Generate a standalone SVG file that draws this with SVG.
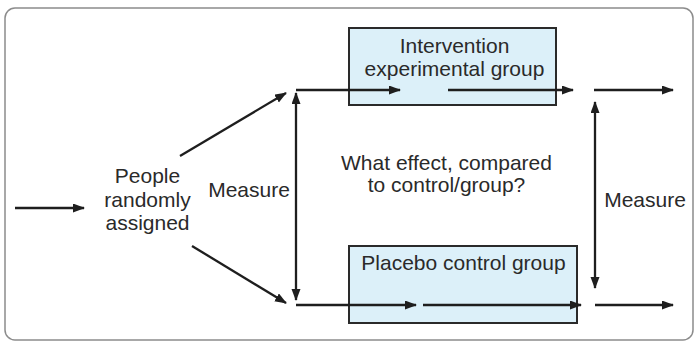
<svg xmlns="http://www.w3.org/2000/svg" width="695" height="342" viewBox="0 0 695 342">
<style>
.t{font-family:"Liberation Sans",Arial,sans-serif;font-size:21px;fill:#2a2a2a;text-anchor:middle}
.c{stroke:#1e1e1e;stroke-width:2.3;fill:none}
.box{fill:#dcf0f9;stroke:#2a2a2a;stroke-width:2}
</style>
<defs>
<marker id="ah" markerUnits="userSpaceOnUse" markerWidth="12" markerHeight="10" refX="11" refY="4.5" orient="auto-start-reverse" viewBox="0 0 12 10">
<path d="M0,0 L12,4.5 L0,9 z" fill="#1e1e1e"/>
</marker>
</defs>
<rect x="5" y="8" width="688" height="332" rx="10" fill="#fff" stroke="#8c8c8c" stroke-width="1.5"/>
<g id="intervention">
<rect class="box" x="349" y="28" width="207" height="77"/>
<text class="t" x="454.5" y="53">Intervention</text>
<text class="t" x="454.5" y="76">experimental group</text>
</g>
<g id="placebo">
<rect class="box" x="349" y="246" width="228" height="77"/>
<text class="t" x="463.5" y="270">Placebo control group</text>
</g>
<g id="people">
<text class="t" x="147.5" y="183">People</text>
<text class="t" x="147.5" y="207">randomly</text>
<text class="t" x="147.5" y="230">assigned</text>
</g>
<g id="measure-left">
<text class="t" x="249" y="197">Measure</text>
</g>
<g id="question">
<text class="t" x="446.5" y="170">What effect, compared</text>
<text class="t" x="446.5" y="192">to control/group?</text>
</g>
<g id="measure-right">
<text class="t" x="645" y="207">Measure</text>
</g>
<g id="connectors">
<line class="c" x1="15" y1="208" x2="84" y2="208" marker-end="url(#ah)"/>
<line class="c" x1="180" y1="156" x2="286" y2="93" marker-end="url(#ah)"/>
<line class="c" x1="192" y1="246" x2="286" y2="303" marker-end="url(#ah)"/>
<line class="c" x1="296" y1="93" x2="296" y2="300" marker-start="url(#ah)" marker-end="url(#ah)"/>
<line class="c" x1="296" y1="90" x2="400" y2="90" marker-end="url(#ah)"/>
<line class="c" x1="448" y1="90" x2="573" y2="90" marker-end="url(#ah)"/>
<line class="c" x1="594" y1="90" x2="673" y2="90" marker-end="url(#ah)"/>
<line class="c" x1="296" y1="305" x2="416" y2="305" marker-end="url(#ah)"/>
<line class="c" x1="423" y1="305" x2="581" y2="305" marker-end="url(#ah)"/>
<line class="c" x1="595" y1="305" x2="673" y2="305" marker-end="url(#ah)"/>
<line class="c" x1="595" y1="102" x2="595" y2="288" marker-start="url(#ah)" marker-end="url(#ah)"/>
</g>
</svg>
